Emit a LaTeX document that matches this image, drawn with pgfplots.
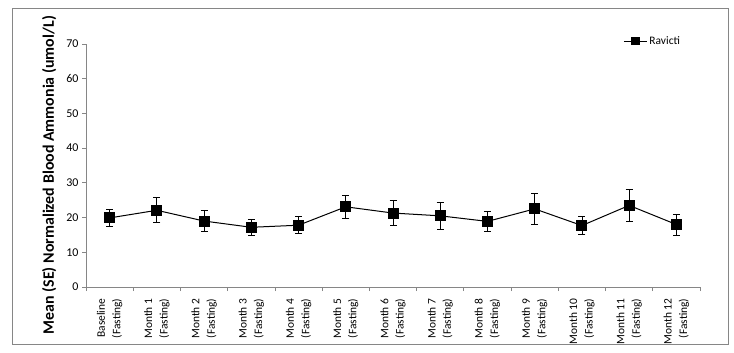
\documentclass[border=0pt]{standalone}
\usepackage{pgfplots}
\pgfplotsset{compat=1.18}
\usepackage{fontspec}
\setmainfont{Carlito}
\definecolor{axgray}{RGB}{134,134,134}
\begin{document}
\begin{tikzpicture}
\useasboundingbox (0,0) rectangle (734bp,353bp);
\fill[white] (0,0) rectangle (734bp,353bp);
\draw[axgray, line width=1bp] (12bp,8bp) rectangle (728bp,344bp);
\begin{axis}[
  at={(86bp,66bp)}, anchor=south west,
  scale only axis, width=614bp, height=243bp,
  xmin=-0.5, xmax=12.5, ymin=0, ymax=70,
  axis lines*=left,
  axis line style={axgray, line width=0.8bp},
  tick align=outside,
  major tick length=4bp, minor tick length=4bp,
  tick style={axgray, line width=0.8bp},
  ytick={0,10,...,70},
  xtick={0,...,12},
  every major x tick/.append style={draw=none},
  minor xtick={-0.5,0.5,...,12.5},
  xticklabels={{Baseline\\(Fasting)},{Month 1\\(Fasting)},{Month 2\\(Fasting)},{Month 3\\(Fasting)},{Month 4\\(Fasting)},{Month 5\\(Fasting)},{Month 6\\(Fasting)},{Month 7\\(Fasting)},{Month 8\\(Fasting)},{Month 9\\(Fasting)},{Month 10\\(Fasting)},{Month 11\\(Fasting)},{Month 12\\(Fasting)}},
  x tick label style={rotate=90, anchor=east, align=right, font=\fontsize{11.5}{15.5}\selectfont, inner xsep=7.5bp},
  y tick label style={font=\fontsize{12}{13}\selectfont},
  /pgf/number format/assume math mode=true,
  ylabel={\bfseries Mean (SE) Normalized Blood Ammonia (umol/L)},
  ylabel style={at={(axis description cs:-0.06,0.46)}, anchor=center, font=\fontsize{16}{18}\selectfont},
  legend style={draw=none, fill=none, at={(0.875,1.012)}, anchor=west, font=\fontsize{11.5}{13}\selectfont, inner sep=0pt},
  legend cell align=left,
  legend image code/.code={\draw[black, line width=1bp] (0bp,0bp) -- (23bp,0bp); \fill[black] (8bp,-3.5bp) rectangle (16bp,3.5bp);},
]
\addplot[black, line width=1bp, mark=square*, mark size=5bp, mark options={solid},
  error bars/.cd, y dir=both, y explicit,
  error bar style={line width=0.8bp, black},
  error mark options={rotate=90, mark size=3.5bp, line width=0.8bp, black}]
coordinates {
(0,19.9) +- (0,2.45)
(1,22.1) +- (0,3.6)
(2,19.0) +- (0,2.95)
(3,17.2) +- (0,2.35)
(4,17.8) +- (0,2.45)
(5,23.1) +- (0,3.3)
(6,21.3) +- (0,3.55)
(7,20.5) +- (0,3.8)
(8,18.9) +- (0,2.8)
(9,22.5) +- (0,4.4)
(10,17.7) +- (0,2.55)
(11,23.5) +- (0,4.5)
(12,18.0) +- (0,3.05)
};
\addlegendentry{Ravicti}
\end{axis}
\end{tikzpicture}
\end{document}
